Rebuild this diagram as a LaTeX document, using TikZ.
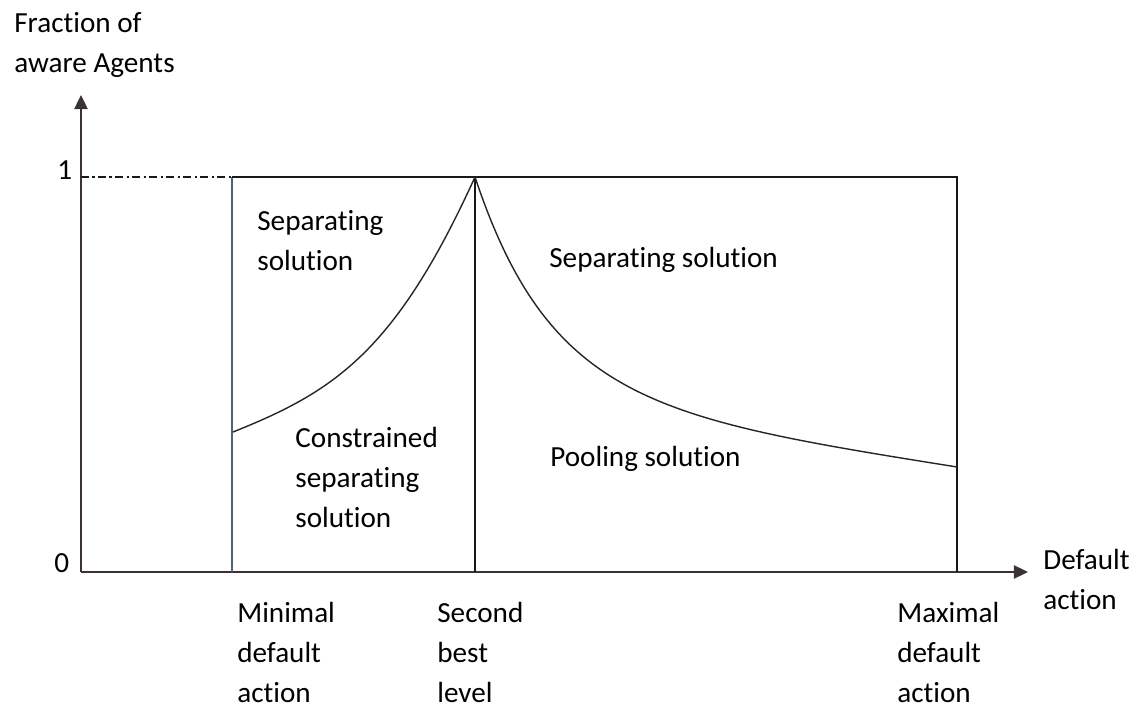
\documentclass[tikz,border=0pt]{standalone}
\usepackage{fontspec}
\setmainfont[Ligatures=NoCommon]{Carlito}
\usetikzlibrary{arrows.meta}
\definecolor{axiscolor}{RGB}{60,50,50}
\definecolor{mincolor}{RGB}{80,100,115}
\tikzset{
	axisstyle/.style={draw=axiscolor,line width=1.1pt,-{Triangle[length=8pt,width=7.5pt]}},
	boxstyle/.style={draw=black!90,line width=0.9pt},
	curvestyle/.style={draw=black!85,line width=0.8pt},
	dashdotstyle/.style={draw=black!90,line width=1pt,dash pattern=on 4.5pt off 2pt on 1.2pt off 2pt},
	labelstyle/.style={anchor=base west,inner sep=0pt,align=left,text=black,font=\fontsize{16.6}{23}\selectfont}
}

\begin{document}
\begin{tikzpicture}[x=0.02cm,y=-0.02cm]
		\useasboundingbox (0,0) rectangle (1137,709);
		\coordinate (o) at (81,572);
		\coordinate (ytop) at (81,95);
		\coordinate (xend) at (1028,572);
		\coordinate (one) at (81,177);
		\coordinate (mintop) at (232,177);
		\coordinate (minbot) at (232,572);
		\coordinate (mincut) at (233,432);
		\coordinate (peak) at (475,177);
		\coordinate (secbot) at (475,572);
		\coordinate (maxtop) at (957,177);
		\coordinate (maxbot) at (957,572);
		\coordinate (maxcut) at (957,467);
		% axes
		\draw[axisstyle] (o)--(ytop);
		\draw[axisstyle] (o)--(xend);
		\draw[dashdotstyle] (one)--(mintop);
		% regions
		\draw[draw=mincolor,line width=1.3pt] (minbot)--(mintop);
		\draw[boxstyle] (mintop)--(maxtop)--(maxbot);
		\draw[boxstyle,line width=0.8pt] (peak)--(secbot);
		\draw[curvestyle] (mincut) .. controls (333,392) and (395,353) .. (peak);
		\draw[curvestyle] (peak) .. controls (550,402) and (657,419) .. (maxcut);
		% labels (placed at the baseline of their last line)
		\node[labelstyle] (ylab) at (14,73) {Fraction of\\aware Agents};
		\node[labelstyle] (ylab1) at (57,180) {1};
		\node[labelstyle] (ylab0) at (54,573) {0};
		\node[labelstyle] (xlab) at (1043,610) {Default\\action};
		\node[labelstyle] (sepleft) at (257,271) {Separating\\solution};
		\node[labelstyle] (consep) at (295,528) {Constrained\\separating\\solution};
		\node[labelstyle] (sepright) at (549,268) {Separating solution};
		\node[labelstyle] (pool) at (550,467) {Pooling solution};
		\node[labelstyle] (minlab) at (237,703) {Minimal\\default\\action};
		\node[labelstyle] (seclab) at (437,703) {Second\\best\\level};
		\node[labelstyle] (maxlab) at (897,703) {Maximal\\default\\action};
\end{tikzpicture}
\end{document}
